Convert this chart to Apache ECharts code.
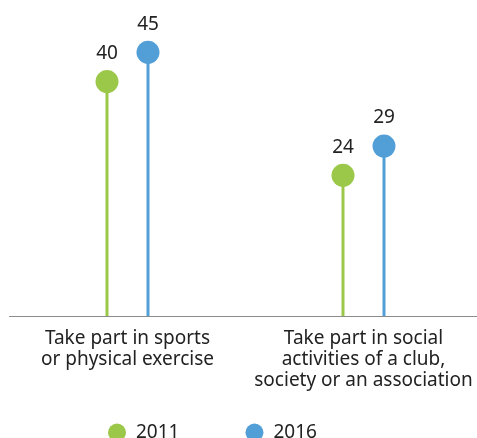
<!DOCTYPE html>
<html>
<head>
<meta charset="utf-8">
<script src="https://cdn.jsdelivr.net/npm/echarts@6/dist/echarts.min.js"></script>
<style>
  html, body { margin: 0; padding: 0; background: #ffffff; }
  #chart { width: 477px; height: 438px; }
</style>
</head>
<body>
<div id="chart"></div>
<script>
// Share of people taking part in each activity, by survey year
const categories = [
  'Take part in sports\nor physical exercise',
  'Take part in social\nactivities of a club,\nsociety or an association'
];
const years = ['2011', '2016'];
const values2011 = [40, 24];
const values2016 = [45, 29];

const GREEN = '#9cc84a';
const BLUE = '#529fd8';
const FONT = '"Noto Sans", sans-serif';
const HALF_GAP = 20.5; // horizontal offset of each year's lollipop from the category centre

const chart = echarts.init(document.getElementById('chart'));

function stem(name, data, color) {
  return {
    name: name,
    type: 'bar',
    data: data,
    barWidth: 3,
    barGap: '1267%',
    itemStyle: { color: color },
    silent: true,
    legendHoverLink: false
  };
}

function head(name, data, color, offset) {
  return {
    name: name,
    type: 'scatter',
    data: data,
    symbol: 'circle',
    symbolSize: 23,
    symbolOffset: [offset, 0],
    itemStyle: { color: color, opacity: 1 },
    label: {
      show: true,
      position: 'top',
      distance: 7,
      color: '#222222',
      fontSize: 19,
      fontFamily: FONT
    },
    z: 3
  };
}

chart.setOption({
  animation: false,
  backgroundColor: '#ffffff',
  grid: {
    left: 9.5,
    width: 472,
    top: 23,
    bottom: 122,
    containLabel: false,
    outerBoundsMode: 'none'
  },
  legend: {
    data: years.map((y, i) => ({ name: y, icon: 'circle', itemStyle: { color: i ? BLUE : GREEN } })),
    top: 418,
    left: 103,
    itemWidth: 28,
    itemHeight: 18,
    itemGap: 66,
    textStyle: { color: '#222222', fontSize: 19, fontFamily: FONT }
  },
  xAxis: {
    type: 'category',
    data: categories,
    axisLine: { show: true, lineStyle: { color: '#8c8c8c', width: 1 } },
    axisTick: { show: false },
    axisLabel: {
      color: '#222222',
      fontSize: 19,
      fontFamily: FONT,
      lineHeight: 21,
      margin: 12,
      interval: 0
    }
  },
  yAxis: {
    type: 'value',
    min: 0,
    max: 50,
    show: false,
    splitLine: { show: false }
  },
  series: [
    stem(years[0], values2011, GREEN),
    stem(years[1], values2016, BLUE),
    head(years[0], values2011, GREEN, -HALF_GAP),
    head(years[1], values2016, BLUE, HALF_GAP)
  ]
});
</script>
</body>
</html>
